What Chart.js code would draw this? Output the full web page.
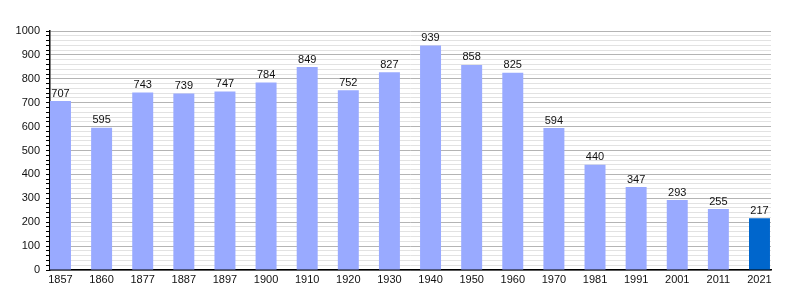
<!DOCTYPE html>
<html>
<head>
<meta charset="utf-8">
<script src="https://cdn.jsdelivr.net/npm/chart.js@4/dist/chart.umd.min.js"></script>
<style>
  html, body { margin: 0; padding: 0; background: #fff; }
  #wrap { width: 800px; height: 300px; }
</style>
</head>
<body>
<div id="wrap"><canvas id="pop"></canvas></div>
<script>
// ---- Data ----
const years = ["1857","1860","1877","1887","1897","1900","1910","1920","1930","1940","1950","1960","1970","1981","1991","2001","2011","2021"];
const population = [707, 595, 743, 739, 747, 784, 849, 752, 827, 939, 858, 825, 594, 440, 347, 293, 255, 217];
const yTicks = [0, 100, 200, 300, 400, 500, 600, 700, 800, 900, 1000];

const C = {
  bar:    "#99aaff",
  last:   "#0066cc",
  major:  "#b4b4b4",
  minor:  "#e2e2e2",
  text:   "#111",
};

Chart.defaults.font.family = "'Liberation Sans', Arial, sans-serif";
Chart.defaults.font.size = 11;
Chart.defaults.color = C.text;

// value labels above each bar
const valueLabels = {
  id: "valueLabels",
  afterDatasetsDraw(chart) {
    const ctx = chart.ctx;
    const meta = chart.getDatasetMeta(0);
    ctx.save();
    ctx.font = "11px 'Liberation Sans', Arial, sans-serif";
    ctx.fillStyle = C.text;
    ctx.textAlign = "center";
    ctx.textBaseline = "bottom";
    meta.data.forEach((bar, i) => {
      ctx.fillText(population[i], bar.x, bar.y - 2);
    });
    ctx.restore();
  }
};

new Chart(document.getElementById("pop"), {
  type: "bar",
  data: {
    datasets: [{
      data: population.map((v, i) => ({x: i, y: v})),
      backgroundColor: population.map((v, i) => i === population.length - 1 ? C.last : C.bar),
      borderWidth: 0,
      categoryPercentage: 1,
      barPercentage: 0.51,
    }]
  },
  options: {
    responsive: true,
    maintainAspectRatio: false,
    animation: false,
    layout: { padding: { top: 31, right: 29, left: 0, bottom: 0 } },
    plugins: { legend: { display: false }, tooltip: { enabled: false } },
    scales: {
      x: {
        type: "linear",
        offset: false,
        min: -0.255,
        max: 17.28,
        afterBuildTicks: s => { s.ticks = years.map((_, i) => ({value: i})); },
        afterFit: s => { s.height = 30; },
        grid: { display: false, offset: false, drawTicks: false },
        border: { display: true, color: "#000", width: 1.5 },
        ticks: { callback: v => years[v] ?? "", padding: 3, maxRotation: 0, autoSkip: false, color: C.text }
      },
      y: {
        min: 0,
        max: 1000,
        afterBuildTicks: s => {
          const t = [];
          for (let v = 0; v <= 1000; v += 20) t.push({value: v});
          s.ticks = t;
        },
        afterFit: s => { s.width = 50; },
        border: { display: true, color: "#000", width: 1.5 },
        grid: {
          color: c => c.tick && c.tick.value % 100 === 0 ? C.major : C.minor,
          tickColor: "#000",
          tickLength: 4,
          drawTicks: true,
        },
        ticks: {
          autoSkip: false,
          padding: 6,
          color: C.text,
          callback: v => yTicks.includes(v) ? v : ""
        }
      }
    }
  },
  plugins: [valueLabels]
});
</script>
</body>
</html>
